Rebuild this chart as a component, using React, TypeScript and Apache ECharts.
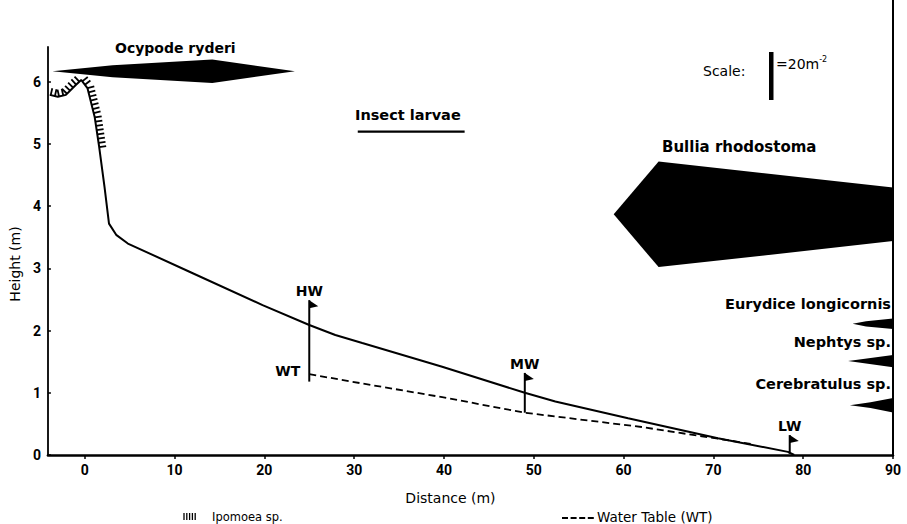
import React, { useEffect, useRef } from 'react';
import * as echarts from 'echarts';

// ---------- data ----------
const distanceTicks = [0, 10, 20, 30, 40, 50, 60, 70, 80, 90];
const heightTicks = [0, 1, 2, 3, 4, 5, 6];

// beach profile
const profileDistance = [-3.9, -3.0, -2.1, -1.0, -0.4, 0.3, 1.1, 1.6, 2.2, 2.7, 3.5, 4.8, 11.6, 19.8, 25.0, 27.9, 30.9, 39.8, 49.0, 52.4, 60.5, 70.5, 78.3, 79.0];
const profileHeight = [5.79, 5.76, 5.79, 5.95, 6.03, 5.9, 5.44, 4.96, 4.31, 3.72, 3.54, 3.4, 2.95, 2.41, 2.09, 1.93, 1.8, 1.42, 1.0, 0.86, 0.59, 0.27, 0.05, 0.0];

// water table
const waterTableDistance = [25.0, 30.9, 39.8, 49.0, 62.0, 72.4, 74.5];
const waterTableHeight = [1.3, 1.15, 0.93, 0.68, 0.45, 0.22, 0.17];

// tide marks
const tideLabels = ['HW', 'MW', 'LW'];
const tideDistance = [25.0, 49.0, 78.5];
const tideTop = [2.49, 1.32, 0.32];
const tideBase = [1.18, 0.68, 0.02];

// Ipomoea sp. cover along the profile
const ipomoeaRange = [-3.9, 1.65];

// kite diagrams (density, individuals m^-2)
const scaleDensity = 20;
const scaleBarHeight = 0.772; // height units (m) equal to 20 m^-2
const speciesNames = ['Ocypode ryderi', 'Insect larvae', 'Bullia rhodostoma', 'Eurydice longicornis', 'Nephtys sp.', 'Cerebratulus sp.'];
const speciesHeight = [6.17, 5.2, 3.87, 2.11, 1.51, 0.8];
const ocypodeDistance = [-3.6, 3.1, 14.2, 23.4];
const ocypodeDensity = [0, 4.9, 9.7, 0];
const insectDistance = [30.4, 42.3];
const insectDensity = [0.9, 0.9];
const bulliaDistance = [58.9, 63.9, 90];
const bulliaDensity = [0, 44, 22.3];
const eurydiceDistance = [85.5, 87.0, 90];
const eurydiceDensity = [0, 2.2, 4.4];
const nephtysDistance = [85.0, 90];
const nephtysDensity = [0, 5.1];
const cerebratulusDistance = [85.2, 87.5, 90];
const cerebratulusDensity = [0, 2.4, 6.0];

const kiteDistances = [ocypodeDistance, insectDistance, bulliaDistance, eurydiceDistance, nephtysDistance, cerebratulusDistance];
const kiteDensities = [ocypodeDensity, insectDensity, bulliaDensity, eurydiceDensity, nephtysDensity, cerebratulusDensity];

const FONT = '"DejaVu Sans", sans-serif';
const INK = '#000';

const mPerDensity = scaleBarHeight / scaleDensity;

function kiteSeries(k: number) {
  const dist = kiteDistances[k];
  const dens = kiteDensities[k];
  const h = speciesHeight[k];
  return {
    type: 'custom',
    name: speciesNames[k],
    coordinateSystem: 'cartesian2d',
    silent: true,
    clip: false,
    data: [[dist[0], h]],
    renderItem: (_p: any, api: any) => {
      const upper = dist.map((d, i) => api.coord([d, h + (dens[i] * mPerDensity) / 2]));
      const lower = dist.map((d, i) => api.coord([d, h - (dens[i] * mPerDensity) / 2])).reverse();
      return { type: 'polygon', shape: { points: [...upper, ...lower] }, style: { fill: INK } };
    },
  };
}

function interpProfile(x: number) {
  for (let i = 0; i < profileDistance.length - 1; i++) {
    const a = profileDistance[i], b = profileDistance[i + 1];
    if (x >= a && x <= b) {
      const t = (x - a) / (b - a);
      return profileHeight[i] + t * (profileHeight[i + 1] - profileHeight[i]);
    }
  }
  return profileHeight[0];
}

export default function App() {
  const ref = useRef<HTMLDivElement>(null);
  useEffect(() => {
    if (!ref.current) return;
    const chart = echarts.init(ref.current, null, { renderer: 'svg' });

    const profileData = profileDistance.map((d, i) => [d, profileHeight[i]]);
    const wtData = waterTableDistance.map((d, i) => [d, waterTableHeight[i]]);
    const tideData = tideDistance.map((d, i) => [d, tideTop[i], tideBase[i]]);

    const option: any = {
      animation: false,
      grid: { left: 45, right: 14, top: 47, bottom: 69 },
      xAxis: {
        type: 'value',
        min: -4.1,
        max: 90,
        name: 'Distance (m)',
        nameLocation: 'middle',
        nameGap: 36,
        nameTextStyle: { fontFamily: FONT, fontSize: 14, color: INK, padding: [0, 40, 0, 0] },
        axisLine: { show: true, onZero: false, lineStyle: { color: INK, width: 2.5 } },
        axisTick: { show: true, length: 4, lineStyle: { color: INK, width: 1.5 }, customValues: distanceTicks },
        axisLabel: { color: INK, fontFamily: 'Roboto', fontWeight: 'bold', fontSize: 14, margin: 8, customValues: distanceTicks },
        splitLine: { show: false },
      },
      yAxis: {
        type: 'value',
        min: 0,
        max: 6.56,
        name: 'Height (m)',
        nameLocation: 'middle',
        nameGap: 22,
        nameTextStyle: { fontFamily: FONT, fontSize: 14, color: INK, padding: [0, 26, 0, 0] },
        axisLine: { show: true, onZero: false, lineStyle: { color: INK, width: 1.8 } },
        axisTick: { show: true, inside: true, length: 3, lineStyle: { color: INK, width: 1.5 }, customValues: heightTicks },
        axisLabel: { color: INK, fontFamily: 'Roboto', fontWeight: 'bold', fontSize: 14, margin: 7, customValues: heightTicks },
        splitLine: { show: false },
      },
      series: [
        {
          type: 'line',
          name: 'Profile',
          data: profileData,
          showSymbol: false,
          smooth: false,
          silent: true,
          lineStyle: { color: INK, width: 2 },
        },
        {
          type: 'line',
          name: 'Water Table (WT)',
          data: wtData,
          showSymbol: false,
          silent: true,
          lineStyle: { color: INK, width: 1.8, type: [7, 4] },
        },
        {
          type: 'custom',
          name: 'Ipomoea sp.',
          coordinateSystem: 'cartesian2d',
          silent: true,
          data: [[ipomoeaRange[0], interpProfile(ipomoeaRange[0])]],
          renderItem: (_p: any, api: any) => {
            const pts: number[][] = [];
            pts.push(api.coord([ipomoeaRange[0], interpProfile(ipomoeaRange[0])]));
            profileDistance.forEach((d, i) => {
              if (d > ipomoeaRange[0] && d < ipomoeaRange[1]) pts.push(api.coord([d, profileHeight[i]]));
            });
            pts.push(api.coord([ipomoeaRange[1], interpProfile(ipomoeaRange[1])]));
            const children: any[] = [];
            const spacing = 4.3;
            const len = 7;
            let carry = 1;
            for (let i = 0; i < pts.length - 1; i++) {
              const p = pts[i], q = pts[i + 1];
              const dx = q[0] - p[0], dy = q[1] - p[1];
              const L = Math.hypot(dx, dy);
              if (L === 0) continue;
              const ux = dx / L, uy = dy / L;
              const nx = uy, ny = -ux;
              let t = carry;
              while (t <= L) {
                const x = p[0] + ux * t, y = p[1] + uy * t;
                children.push({
                  type: 'line',
                  shape: { x1: x, y1: y, x2: x + nx * len, y2: y + ny * len },
                  style: { stroke: INK, lineWidth: 1.8 },
                });
                t += spacing;
              }
              carry = t - L;
            }
            return { type: 'group', children };
          },
        },
        {
          type: 'custom',
          name: 'Tide marks',
          coordinateSystem: 'cartesian2d',
          silent: true,
          data: tideData,
          renderItem: (params: any, api: any) => {
            const x = api.value(0), top = api.value(1), base = api.value(2);
            const pt = api.coord([x, top]);
            const pb = api.coord([x, base]);
            return {
              type: 'group',
              children: [
                { type: 'line', shape: { x1: pt[0], y1: pt[1], x2: pb[0], y2: pb[1] }, style: { stroke: INK, lineWidth: 2 } },
                { type: 'polygon', shape: { points: [[pt[0], pt[1]], [pt[0] + 9, pt[1] + 6], [pt[0], pt[1] + 8]] }, style: { fill: INK } },
                {
                  type: 'text',
                  x: pt[0],
                  y: pt[1] - 2,
                  style: { text: tideLabels[params.dataIndex], align: 'center', verticalAlign: 'bottom', fontFamily: FONT, fontSize: 14, fontWeight: 'bold', fill: INK },
                },
              ],
            };
          },
        },
        {
          type: 'custom',
          name: 'WT label',
          coordinateSystem: 'cartesian2d',
          silent: true,
          data: [[waterTableDistance[0], waterTableHeight[0]]],
          renderItem: (_p: any, api: any) => {
            const p = api.coord([api.value(0), api.value(1)]);
            return {
              type: 'text',
              x: p[0] - 9,
              y: p[1] - 3,
              style: { text: 'WT', align: 'right', verticalAlign: 'middle', fontFamily: FONT, fontSize: 14, fontWeight: 'bold', fill: INK },
            };
          },
        },
        ...speciesNames.map((_n, k) => kiteSeries(k)),
      ],
      graphic: [],
    };

    chart.setOption(option);

    const p0 = chart.convertToPixel({ xAxisIndex: 0, yAxisIndex: 0 }, [90, 0]) as number[];
    const pScale = chart.convertToPixel({ xAxisIndex: 0, yAxisIndex: 0 }, [0, scaleDensity * mPerDensity]) as number[];
    const pZero = chart.convertToPixel({ xAxisIndex: 0, yAxisIndex: 0 }, [0, 0]) as number[];
    const barH = pZero[1] - pScale[1];

    const txt = (id: string, text: string, x: number, y: number, align: string, size = 14, weight = 'bold') => ({
      type: 'text',
      id,
      x,
      y,
      silent: true,
      style: { text, align, verticalAlign: 'middle', fontFamily: FONT, fontSize: size, fontWeight: weight, fill: INK },
    });

    const ipoMarks = [0, 1, 2, 3, 4].map((i) => ({
      type: 'line',
      id: 'ipo' + i,
      silent: true,
      shape: { x1: 184 + i * 2.8, y1: 513, x2: 184 + i * 2.8, y2: 520 },
      style: { stroke: INK, lineWidth: 1.3 },
    }));

    chart.setOption({
      graphic: [
        {
          type: 'line',
          id: 'frame',
          silent: true,
          shape: { x1: p0[0], y1: 0, x2: p0[0], y2: p0[1] },
          style: { stroke: INK, lineWidth: 2 },
        },
        txt('ocy', speciesNames[0], 115, 48, 'left', 14),
        txt('ins', speciesNames[1], 355, 115, 'left', 14.5),
        txt('bul', speciesNames[2], 662, 147, 'left', 15),
        txt('eur', speciesNames[3], 891, 304, 'right', 14.5),
        txt('nep', speciesNames[4], 891, 342, 'right', 14.5),
        txt('cer', speciesNames[5], 891, 384, 'right', 14.5),
        txt('scale', 'Scale:', 703, 71, 'left', 14, 'normal'),
        { type: 'rect', id: 'scalebar', silent: true, shape: { x: 769, y: 52, width: 4.5, height: barH }, style: { fill: INK } },
        {
          type: 'text',
          id: 'scaleval',
          x: 776,
          y: 64,
          silent: true,
          style: {
            text: '{a|=20m}{b|-2}',
            align: 'left',
            verticalAlign: 'middle',
            rich: {
              a: { fontFamily: FONT, fontSize: 14, fill: INK },
              b: { fontFamily: FONT, fontSize: 8, fill: INK, verticalAlign: 'top', padding: [0, 0, 10, 0] },
            },
          },
        },
        ...ipoMarks,
        txt('ipo', 'Ipomoea sp.', 212, 517, 'left', 11.5, 'normal'),
        {
          type: 'line',
          id: 'wtleg',
          silent: true,
          shape: { x1: 562, y1: 518, x2: 594, y2: 518 },
          style: { stroke: INK, lineWidth: 1.8, lineDash: [6, 2.6] },
        },
        txt('wt', 'Water Table (WT)', 597, 517, 'left', 13.5, 'normal'),
      ],
    });

    return () => chart.dispose();
  }, []);

  return (
    <div
      ref={ref}
      style={{ position: 'fixed', left: 0, top: 0, width: 907, height: 524, background: '#fff' }}
    />
  );
}
